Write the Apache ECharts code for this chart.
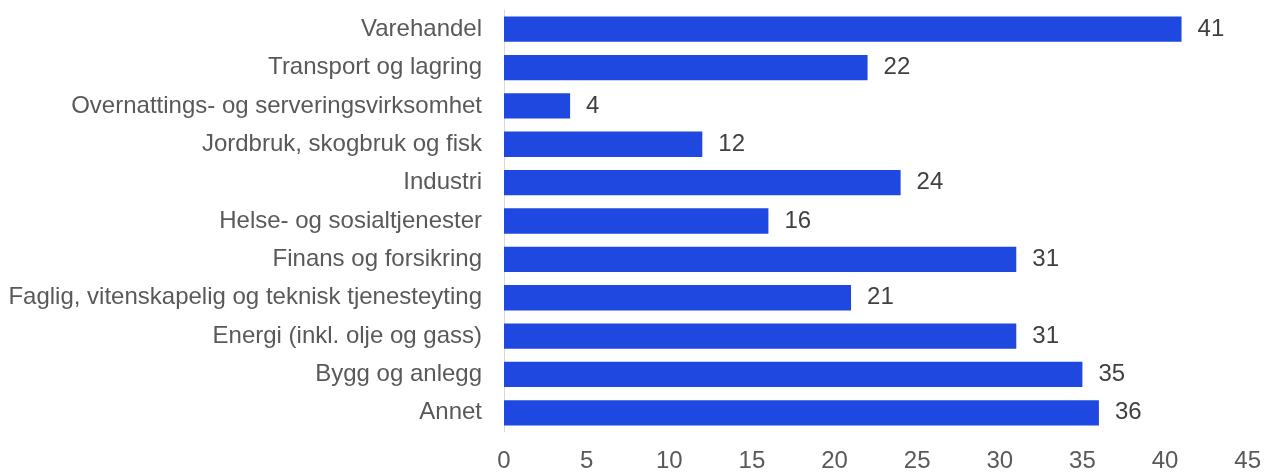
<!DOCTYPE html>
<html>
<head>
<meta charset="utf-8">
<style>
  html, body { margin: 0; padding: 0; background: #fff; }
  #chart { width: 1264px; height: 473px; }
</style>
<script src="https://cdn.jsdelivr.net/npm/echarts@6/dist/echarts.min.js"></script>
</head>
<body>
<div id="chart"></div>
<script>
// categories listed bottom to top (category axis starts at the bottom)
var categories = [
  "Annet",
  "Bygg og anlegg",
  "Energi (inkl. olje og gass)",
  "Faglig, vitenskapelig og teknisk tjenesteyting",
  "Finans og forsikring",
  "Helse- og sosialtjenester",
  "Industri",
  "Jordbruk, skogbruk og fisk",
  "Overnattings- og serveringsvirksomhet",
  "Transport og lagring",
  "Varehandel"
];
var values = [36, 35, 31, 21, 31, 16, 24, 12, 4, 22, 41];
var xTicks = [0, 5, 10, 15, 20, 25, 30, 35, 40, 45];

var font = "'Liberation Sans', Arial, sans-serif";

var chart = echarts.init(document.getElementById("chart"));
chart.setOption({
  animation: false,
  grid: {
    left: 504,
    right: 16,
    top: 10,
    bottom: 38,
    containLabel: false
  },
  xAxis: {
    type: "value",
    min: xTicks[0],
    max: xTicks[xTicks.length - 1],
    interval: 5,
    axisLine: { show: false },
    axisTick: { show: false },
    splitLine: { show: false },
    axisLabel: {
      color: "#595959",
      fontSize: 24,
      fontFamily: font,
      margin: 17
    }
  },
  yAxis: {
    type: "category",
    data: categories,
    axisLine: { show: true, lineStyle: { color: "#d9d9d9", width: 1 } },
    axisTick: { show: false },
    axisLabel: {
      color: "#595959",
      fontSize: 24,
      fontFamily: font,
      margin: 22
    }
  },
  series: [
    {
      type: "bar",
      data: values,
      barWidth: "66%",
      itemStyle: { color: "#1f48e0" },
      label: {
        show: true,
        position: "right",
        distance: 16,
        color: "#404040",
        fontSize: 24,
        fontFamily: font
      }
    }
  ]
});
</script>
</body>
</html>
